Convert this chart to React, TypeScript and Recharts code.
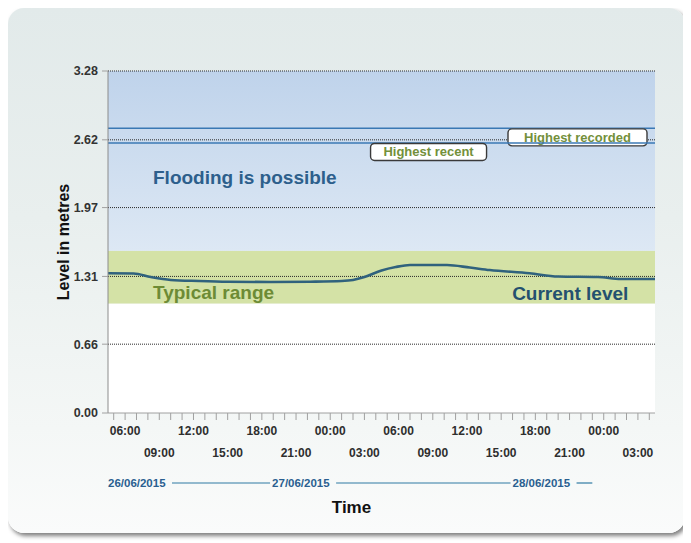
import React from 'react';
import {
  ComposedChart,
  Line,
  XAxis,
  YAxis,
  ReferenceArea,
  ReferenceLine,
  Label,
} from 'recharts';

// ---------- data ----------
const readingHours = [4.5, 6.75, 8.25, 10, 12.5, 15, 18.75, 22.25, 25, 26, 27, 28.5, 29.75, 31, 34.25, 36.25, 38, 41.5, 44, 47.5, 49.5, 52.5];
const readingLevels = [1.34, 1.338, 1.304, 1.276, 1.266, 1.259, 1.256, 1.259, 1.266, 1.276, 1.304, 1.367, 1.4, 1.419, 1.419, 1.395, 1.371, 1.34, 1.309, 1.304, 1.285, 1.285];

const yTicks = [0, 0.66, 1.31, 1.97, 2.62, 3.28];
const hourTicks = [5, 6, 7, 8, 9, 10, 11, 12, 13, 14, 15, 16, 17, 18, 19, 20, 21, 22, 23, 24, 25, 26, 27, 28, 29, 30, 31, 32, 33, 34, 35, 36, 37, 38, 39, 40, 41, 42, 43, 44, 45, 46, 47, 48, 49, 50, 51, 52];
const xDomain = [4.5, 52.5];

const typicalLow = 1.05;
const typicalHigh = 1.556;
const highestRecent = 2.59;
const highestRecorded = 2.73;

const dateLabels = ['26/06/2015', '27/06/2015', '28/06/2015'];
const dateStarts = [4.5, 18.9, 40.0];
const dateRowEnd = 47.0;

const chartData = readingHours.map((t, i) => ({ t, level: readingLevels[i] }));

// ---------- layout ----------
const W = 683;
const H = 535;
const MARGIN = { top: 63, right: 36, bottom: 0, left: 0 };
const Y_W = 100;
const X_H = 60;
const DATE_H = 70;
const PLOT_L = MARGIN.left + Y_W;
const PLOT_W = W - MARGIN.right - PLOT_L;
const FONT = "'Liberation Sans', Arial, Helvetica, sans-serif";

const px = (t: number) => PLOT_L + ((t - xDomain[0]) / (xDomain[1] - xDomain[0])) * PLOT_W;

const HourTick = (props: any) => {
  const { x, y, payload } = props;
  const h = payload.value as number;
  if (h % 3 !== 0) return <g />;
  const top = (h / 3) % 2 === 0;
  const label = String(h % 24).padStart(2, '0') + ':00';
  return (
    <text x={x} y={y + (top ? 13 : 35)} textAnchor="middle" fontFamily={FONT} fontWeight="bold" fontSize={12} fill="#2e2e2e">
      {label}
    </text>
  );
};

const DATE_LABEL_W = 58;
const DateTick = (props: any) => {
  const { x, y, index } = props;
  const i = index as number;
  const next = i + 1 < dateStarts.length ? px(dateStarts[i + 1]) - 2 : px(dateRowEnd);
  return (
    <g>
      <text x={x} y={y + 14} textAnchor="start" fontFamily={FONT} fontWeight="bold" fontSize={11.5} fill="#2a5f90">
        {dateLabels[i]}
      </text>
      <line x1={x + DATE_LABEL_W + 6} x2={next} y1={y + 10} y2={y + 10} stroke="#2f7aa3" strokeWidth={1.2} />
    </g>
  );
};

const FloodText = (props: any) => {
  const vb = props.viewBox;
  return (
    <text x={vb.x + 45} y={vb.y + vb.height - 66.7} fontFamily={FONT} fontWeight="bold" fontSize={19} fill="#2d5f8c">
      Flooding is possible
    </text>
  );
};

const TypicalText = (props: any) => {
  const vb = props.viewBox;
  return (
    <g>
      <text x={vb.x + 45} y={vb.y + vb.height - 5} fontFamily={FONT} fontWeight="bold" fontSize={19} fill="#6d8b35">
        Typical range
      </text>
      <text x={vb.x + vb.width - 26.7} y={vb.y + vb.height - 3.3} textAnchor="end" fontFamily={FONT} fontWeight="bold" fontSize={19} fill="#24506f">
        Current level
      </text>
    </g>
  );
};

const boxLabel = (text: string, leftFrac: number | null, rightGap: number | null, w: number) => (props: any) => {
  const vb = props.viewBox;
  const bx = leftFrac !== null ? vb.x + vb.width * leftFrac : vb.x + vb.width - (rightGap as number) - w;
  const by = vb.y + 0.5;
  return (
    <g>
      <rect x={bx} y={by} width={w} height={17} rx={4} ry={4} fill="#ffffff" stroke="#3a3a3a" strokeWidth={1.4} />
      <text x={bx + w / 2} y={by + 13} textAnchor="middle" fontFamily={FONT} fontWeight="bold" fontSize={13} fill="#73903b">
        {text}
      </text>
    </g>
  );
};

const YLabel = (props: any) => {
  const vb = props.viewBox;
  const cx = vb.x + 55;
  const cy = vb.y + vb.height / 2;
  return (
    <text transform={`translate(${cx}, ${cy}) rotate(-90)`} textAnchor="middle" dy="0.36em" fontFamily={FONT} fontWeight="bold" fontSize={16} fill="#111">
      Level in metres
    </text>
  );
};

const TimeLabel = (props: any) => {
  const vb = props.viewBox;
  return (
    <text x={W / 2 + 2} y={vb.y + 39.7} textAnchor="middle" fontFamily={FONT} fontWeight="bold" fontSize={17} fill="#111">
      Time
    </text>
  );
};

export default function App() {
  return (
    <div style={{ position: 'relative', width: W, height: H }}>
      <div
        style={{
          position: 'absolute',
          left: 0,
          top: 0,
          width: 677,
          height: 525,
          borderRadius: 16,
          background: 'linear-gradient(#e2eaea 0%, #e9efee 40%, #f4f7f6 80%, #fafbfb 100%)',
          boxShadow: '2px 3px 4px rgba(0,0,0,0.5)',
        }}
      />
      <div style={{ position: 'absolute', left: 0, top: 0 }}>
        <ComposedChart width={W} height={H} data={chartData} margin={MARGIN}>
          <defs>
            <linearGradient id="floodGrad" x1="0" y1="0" x2="0" y2="1">
              <stop offset="0%" stopColor="#bfd3eb" />
              <stop offset="100%" stopColor="#dde8f4" />
            </linearGradient>
          </defs>
          <XAxis
            dataKey="t"
            type="number"
            domain={xDomain}
            ticks={hourTicks}
            interval={0}
            height={X_H}
            tickSize={7}
            tickMargin={2}
            tick={<HourTick />}
            stroke="#a0a0a0"
            tickLine={{ stroke: '#a0a0a0' }}
            axisLine={{ stroke: '#a0a0a0' }}
            allowDataOverflow
          />
          <XAxis
            xAxisId="date"
            dataKey="t"
            type="number"
            domain={xDomain}
            ticks={dateStarts}
            interval={0}
            height={DATE_H}
            tickSize={0}
            tickMargin={0}
            axisLine={false}
            tickLine={false}
            tick={<DateTick />}
            allowDataOverflow
          >
            <Label content={<TimeLabel />} />
          </XAxis>
          <YAxis
            type="number"
            domain={[0, 3.28]}
            ticks={yTicks}
            interval={0}
            width={Y_W}
            tickSize={6}
            tickMargin={4}
            tickFormatter={(v: number) => v.toFixed(2)}
            tick={{ fontFamily: FONT, fontWeight: 'bold', fontSize: 12.5, fill: '#333' }}
            tickLine={{ stroke: '#a0a0a0' }}
            axisLine={{ stroke: '#8c8c8c' }}
            allowDataOverflow
          >
            <Label content={<YLabel />} />
          </YAxis>
          <ReferenceArea y1={0} y2={typicalLow} fill="#ffffff" fillOpacity={1} stroke="none" />
          <ReferenceArea y1={typicalLow} y2={typicalHigh} fill="#d4e2a6" fillOpacity={1} stroke="none" label={<TypicalText />} />
          <ReferenceArea y1={typicalHigh} y2={3.28} fill="url(#floodGrad)" fillOpacity={1} stroke="none" label={<FloodText />} />
          {yTicks.filter((v) => v > 0).map((v) => (
            <ReferenceLine key={v} y={v} stroke="#2a2a2a" strokeWidth={1} strokeDasharray="1 1" />
          ))}
          <ReferenceLine y={highestRecorded} stroke="#3a78b4" strokeWidth={1.5} label={{ content: boxLabel('Highest recorded', null, 8, 139) } as any} />
          <ReferenceLine y={highestRecent} stroke="#3a78b4" strokeWidth={1.5} label={{ content: boxLabel('Highest recent', 0.48, null, 116) } as any} />
          <Line
            type="monotone"
            dataKey="level"
            stroke="#30627d"
            strokeWidth={2.6}
            dot={false}
            isAnimationActive={false}
          />
        </ComposedChart>
      </div>
    </div>
  );
}
